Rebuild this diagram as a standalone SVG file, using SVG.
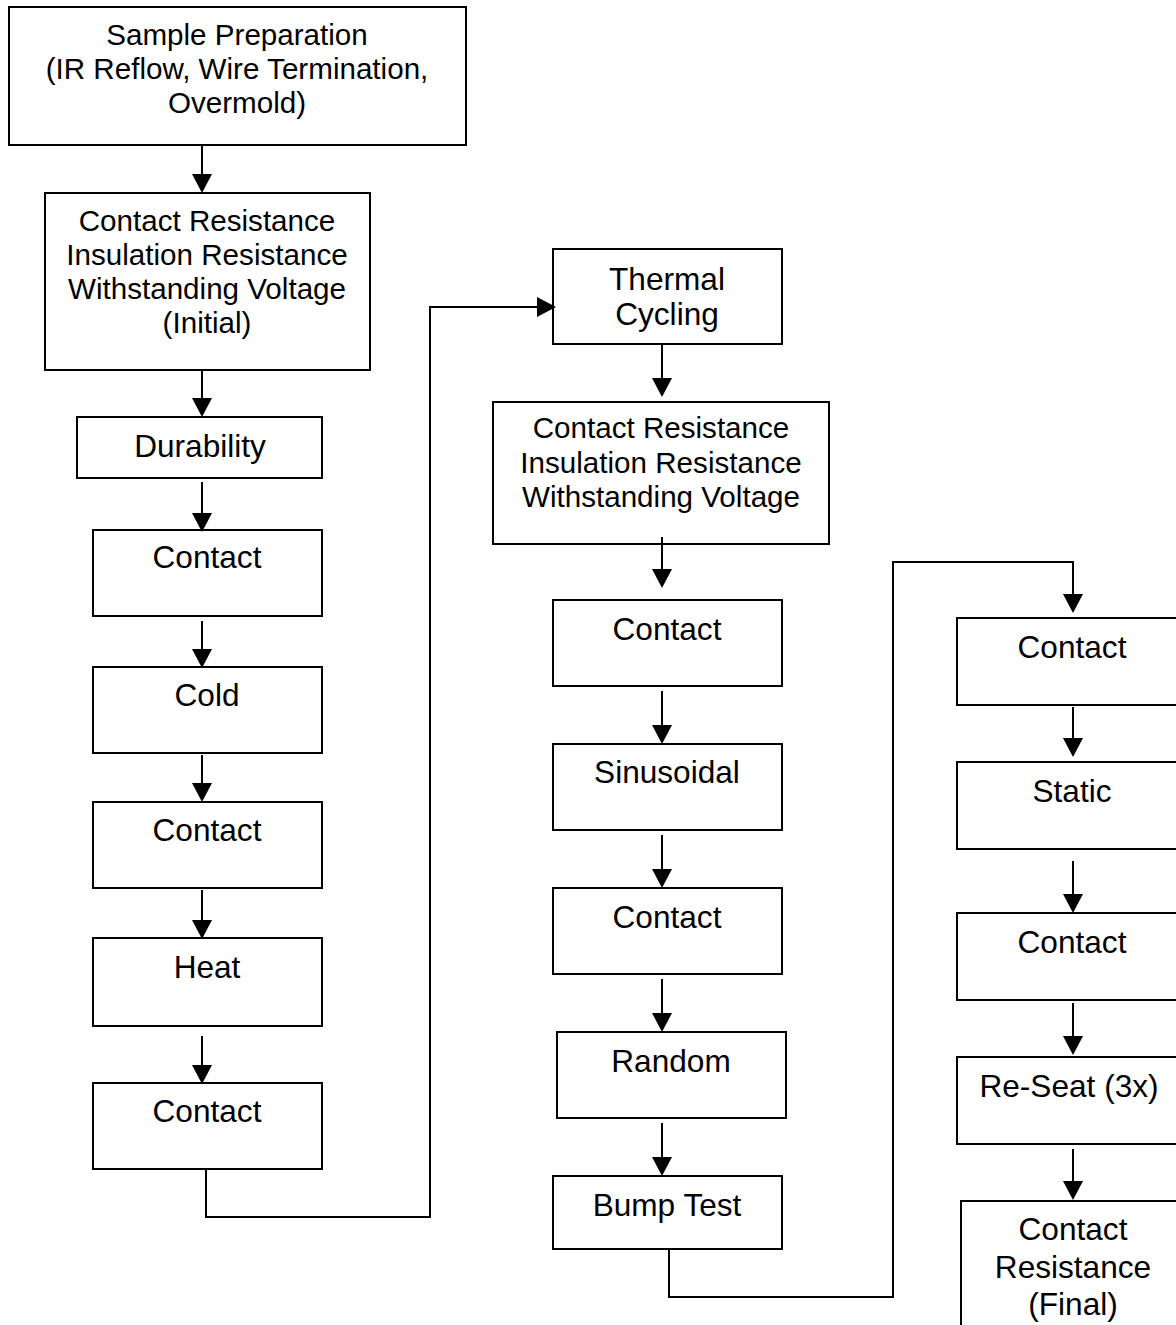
<svg xmlns="http://www.w3.org/2000/svg" width="1176" height="1325" viewBox="0 0 1176 1325">
  <style>
    .box { fill: #ffffff; stroke: #000000; stroke-width: 2; }
    .link { fill: none; stroke: #000000; stroke-width: 2; }
    .lbl { font-family: "Liberation Sans", Arial, sans-serif; font-size: 31.6px; fill: #000000; text-anchor: middle; }
    .lbl-sm { font-family: "Liberation Sans", Arial, sans-serif; font-size: 29.6px; fill: #000000; text-anchor: middle; }
  </style>
  <defs>
    <marker id="arrow" markerUnits="userSpaceOnUse" markerWidth="20" markerHeight="20" refX="15" refY="10" orient="auto">
      <path d="M0,0 L19,10 L0,20 Z" fill="#000000"/>
    </marker>
  </defs>
  <rect width="1176" height="1325" fill="#ffffff"/>

  <!-- left column -->
  <g id="sample-prep">
    <rect class="box" x="9" y="7" width="457" height="138"/>
    <text class="lbl-sm" x="237" y="45">Sample Preparation</text>
    <text class="lbl-sm" x="237" y="79">(IR Reflow, Wire Termination,</text>
    <text class="lbl-sm" x="237" y="113">Overmold)</text>
  </g>
  <g id="initial-checks">
    <rect class="box" x="45" y="193" width="325" height="177"/>
    <text class="lbl-sm" x="207" y="231">Contact Resistance</text>
    <text class="lbl-sm" x="207" y="265">Insulation Resistance</text>
    <text class="lbl-sm" x="207" y="299">Withstanding Voltage</text>
    <text class="lbl-sm" x="207" y="333">(Initial)</text>
  </g>
  <g id="durability">
    <rect class="box" x="77" y="417" width="245" height="61"/>
    <text class="lbl" x="200" y="457">Durability</text>
  </g>
  <g id="contact-1">
    <rect class="box" x="93" y="530" width="229" height="86"/>
    <text class="lbl" x="207" y="568">Contact</text>
  </g>
  <g id="cold">
    <rect class="box" x="93" y="667" width="229" height="86"/>
    <text class="lbl" x="207" y="706">Cold</text>
  </g>
  <g id="contact-2">
    <rect class="box" x="93" y="802" width="229" height="86"/>
    <text class="lbl" x="207" y="841">Contact</text>
  </g>
  <g id="heat">
    <rect class="box" x="93" y="938" width="229" height="88"/>
    <text class="lbl" x="207" y="978">Heat</text>
  </g>
  <g id="contact-3">
    <rect class="box" x="93" y="1083" width="229" height="86"/>
    <text class="lbl" x="207" y="1122">Contact</text>
  </g>

  <!-- middle column -->
  <g id="thermal-cycling">
    <rect class="box" x="553" y="249" width="229" height="95"/>
    <text class="lbl" x="667" y="290">Thermal</text>
    <text class="lbl" x="667" y="325">Cycling</text>
  </g>
  <g id="post-thermal-checks">
    <rect class="box" x="493" y="402" width="336" height="142"/>
    <text class="lbl-sm" x="661" y="438">Contact Resistance</text>
    <text class="lbl-sm" x="661" y="473">Insulation Resistance</text>
    <text class="lbl-sm" x="661" y="507">Withstanding Voltage</text>
  </g>
  <g id="contact-4">
    <rect class="box" x="553" y="600" width="229" height="86"/>
    <text class="lbl" x="667" y="640">Contact</text>
  </g>
  <g id="sinusoidal">
    <rect class="box" x="553" y="744" width="229" height="86"/>
    <text class="lbl" x="667" y="783">Sinusoidal</text>
  </g>
  <g id="contact-5">
    <rect class="box" x="553" y="888" width="229" height="86"/>
    <text class="lbl" x="667" y="928">Contact</text>
  </g>
  <g id="random">
    <rect class="box" x="557" y="1032" width="229" height="86"/>
    <text class="lbl" x="671" y="1072">Random</text>
  </g>
  <g id="bump-test">
    <rect class="box" x="553" y="1176" width="229" height="73"/>
    <text class="lbl" x="667" y="1216">Bump Test</text>
  </g>

  <!-- right column -->
  <g id="contact-6">
    <rect class="box" x="957" y="618" width="228" height="87"/>
    <text class="lbl" x="1072" y="658">Contact</text>
  </g>
  <g id="static">
    <rect class="box" x="957" y="762" width="228" height="87"/>
    <text class="lbl" x="1072" y="802">Static</text>
  </g>
  <g id="contact-7">
    <rect class="box" x="957" y="913" width="228" height="87"/>
    <text class="lbl" x="1072" y="953">Contact</text>
  </g>
  <g id="re-seat">
    <rect class="box" x="957" y="1057" width="228" height="87"/>
    <text class="lbl" x="1069" y="1097">Re-Seat (3x)</text>
  </g>
  <g id="final">
    <rect class="box" x="961" y="1201" width="228" height="140"/>
    <text class="lbl" x="1073" y="1240">Contact</text>
    <text class="lbl" x="1073" y="1278">Resistance</text>
    <text class="lbl" x="1073" y="1315">(Final)</text>
  </g>

  <!-- connectors -->
  <g id="connectors">
    <path class="link" marker-end="url(#arrow)" d="M202,145 V189"/>
    <path class="link" marker-end="url(#arrow)" d="M202,370 V413"/>
    <path class="link" marker-end="url(#arrow)" d="M202,482 V528"/>
    <path class="link" marker-end="url(#arrow)" d="M202,621 V664"/>
    <path class="link" marker-end="url(#arrow)" d="M202,755 V798"/>
    <path class="link" marker-end="url(#arrow)" d="M202,890 V935"/>
    <path class="link" marker-end="url(#arrow)" d="M202,1036 V1080"/>
    <path class="link" marker-end="url(#arrow)" d="M206,1169 V1217 H430 V307 H552"/>

    <path class="link" marker-end="url(#arrow)" d="M662,344 V393"/>
    <path class="link" marker-end="url(#arrow)" d="M662,537 V584"/>
    <path class="link" marker-end="url(#arrow)" d="M662,691 V740"/>
    <path class="link" marker-end="url(#arrow)" d="M662,835 V884"/>
    <path class="link" marker-end="url(#arrow)" d="M662,979 V1028"/>
    <path class="link" marker-end="url(#arrow)" d="M662,1123 V1172"/>
    <path class="link" marker-end="url(#arrow)" d="M669,1249 V1297 H893 V562 H1073 V609"/>

    <path class="link" marker-end="url(#arrow)" d="M1073,707 V753"/>
    <path class="link" marker-end="url(#arrow)" d="M1073,861 V909"/>
    <path class="link" marker-end="url(#arrow)" d="M1073,1003 V1051"/>
    <path class="link" marker-end="url(#arrow)" d="M1073,1149 V1196"/>
  </g>
</svg>
